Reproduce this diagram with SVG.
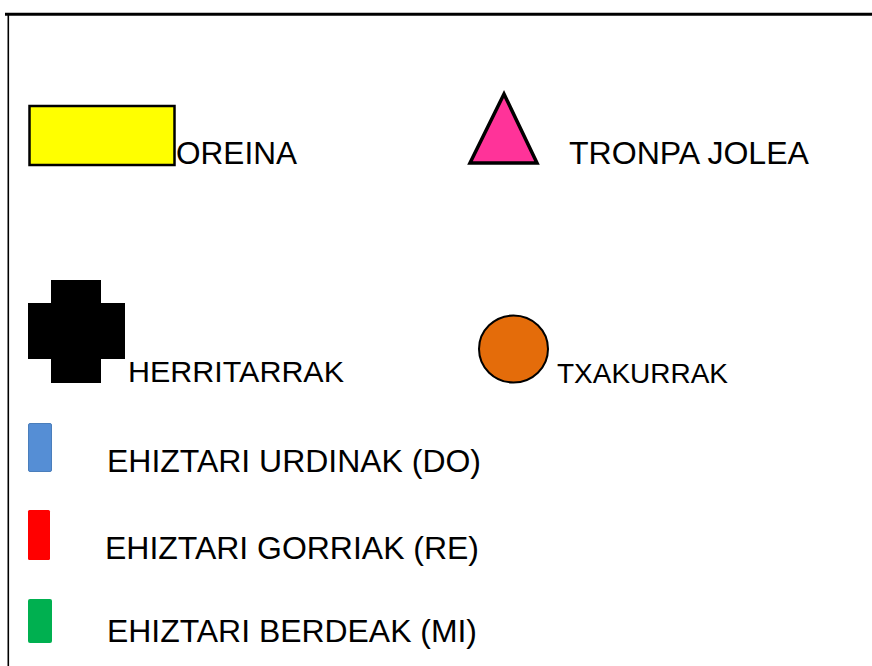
<svg xmlns="http://www.w3.org/2000/svg" width="872" height="666" viewBox="0 0 872 666">
<style>
.t{font-family:"Liberation Sans",Arial,sans-serif;fill:#000;}
</style>
<rect x="0" y="0" width="872" height="666" fill="#fff"/>
<g id="frame">
<line x1="5" y1="14.3" x2="872" y2="14.3" stroke="#000" stroke-width="3"/>
<line x1="8.3" y1="13" x2="8.3" y2="666" stroke="#000" stroke-width="1.6"/>
</g>
<g id="oreina">
<rect x="29.5" y="106" width="145" height="59" fill="#ffff00" stroke="#000" stroke-width="2.5"/>
<text class="t" x="176" y="164" font-size="31" textLength="121" lengthAdjust="spacingAndGlyphs">OREINA</text>
</g>
<g id="tronpa-jolea">
<polygon points="504,94 470,163 537,163" fill="#ff3399" stroke="#000" stroke-width="3.5" stroke-linejoin="miter"/>
<text class="t" x="569" y="164" font-size="31" textLength="240" lengthAdjust="spacingAndGlyphs">TRONPA JOLEA</text>
</g>
<g id="herritarrak">
<rect x="51" y="280" width="50" height="103" fill="#000"/>
<rect x="28" y="303" width="97" height="56" fill="#000"/>
<text class="t" x="128" y="382" font-size="30" textLength="216" lengthAdjust="spacingAndGlyphs">HERRITARRAK</text>
</g>
<g id="txakurrak">
<ellipse cx="513.5" cy="349" rx="34.5" ry="33.5" fill="#e46c0a" stroke="#000" stroke-width="2"/>
<text class="t" x="557" y="383" font-size="28" textLength="171" lengthAdjust="spacingAndGlyphs">TXAKURRAK</text>
</g>
<g id="ehiztari-urdinak">
<rect x="28.5" y="423.5" width="23" height="48" rx="1.5" fill="#558ed5" stroke="#4a7ebb" stroke-width="1"/>
<text class="t" x="107" y="472" font-size="31" textLength="374" lengthAdjust="spacingAndGlyphs">EHIZTARI URDINAK (DO)</text>
</g>
<g id="ehiztari-gorriak">
<rect x="28" y="510" width="22" height="50" rx="1.5" fill="#ff0000"/>
<text class="t" x="105" y="559" font-size="31" textLength="374" lengthAdjust="spacingAndGlyphs">EHIZTARI GORRIAK (RE)</text>
</g>
<g id="ehiztari-berdeak">
<rect x="28" y="599" width="24" height="44" rx="2" fill="#00b050"/>
<text class="t" x="107" y="642" font-size="31" textLength="370" lengthAdjust="spacingAndGlyphs">EHIZTARI BERDEAK (MI)</text>
</g>
<g id="connectors"></g>
</svg>
